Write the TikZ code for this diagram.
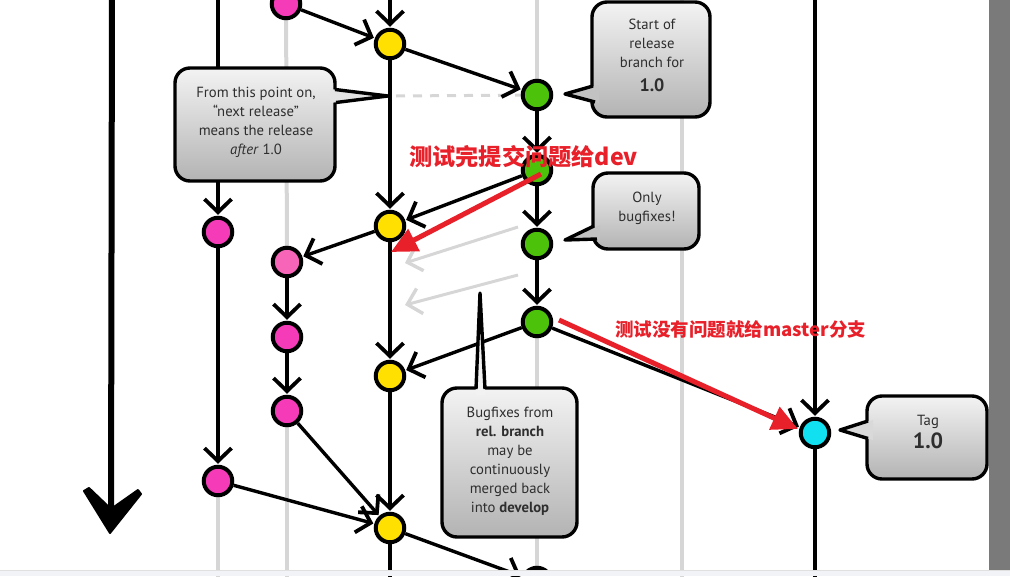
\documentclass[tikz,border=0pt]{standalone}
\usepackage{fontspec}
\setmainfont{PT Sans}
\newfontfamily\cjk{Noto Sans CJK SC}
\usetikzlibrary{arrows.meta}
\definecolor{pinkc}{HTML}{F53BB8}
\definecolor{pinkl}{HTML}{F765B8}
\definecolor{yel}{HTML}{FFE000}
\definecolor{grn}{HTML}{4DC20A}
\definecolor{cyn}{HTML}{10E0F0}
\definecolor{redc}{HTML}{E8202A}
\definecolor{lgrey}{HTML}{D6D6D6}
\definecolor{txt}{HTML}{2E2E2E}
\definecolor{btop}{HTML}{F3F3F3}
\definecolor{bbot}{HTML}{B3B3B3}
\definecolor{barg}{HTML}{7A7A7A}
\definecolor{strip}{HTML}{F2F3F6}
\pgfdeclarelayer{bg}
\pgfsetlayers{bg,main}
\tikzset{
  commit/.style={circle, draw=black, line width=4pt, minimum size=28.5pt, inner sep=0pt},
  edgeflow/.style={line width=3.4pt, -{Straight Barb[length=13pt,width=27pt,line width=3.8pt]}, shorten >=1pt},
  edgeplain/.style={line width=3.4pt},
  ghost/.style={draw=lgrey, line width=4pt},
  ghostflow/.style={draw=lgrey, line width=3pt, -{Straight Barb[length=13pt,width=26pt,line width=3.4pt]}},
  bubble/.style={draw=black, line width=3.4pt, rounded corners=15pt, top color=btop, bottom color=bbot, inner sep=0pt},
  btext/.style={text=txt, align=center, inner sep=0pt, font=\fontsize{14.7}{19}\selectfont},
  ptr/.style={draw=black, line width=3.4pt, line join=round},
  redarrow/.style={draw=redc, line width=5pt, -{Triangle[length=26pt,width=24pt]}},
  redtxt/.style={text=redc, font=\cjk\bfseries\fontsize{23.2}{25}\selectfont, inner sep=0pt},
  redtxtb/.style={text=redc, font=\cjk\bfseries\fontsize{18.5}{21}\selectfont, inner sep=0pt},
}
\begin{document}
\begin{tikzpicture}[x=1pt,y=-1pt]
\useasboundingbox (0,0) rectangle (1010,576);
\begin{scope}
\clip (0,0) rectangle (989,570);
% commits
\node[commit, fill=pinkc] (p0) at (286,4) {};
\node[commit, fill=yel] (d1) at (390,44) {};
\node[commit, fill=grn] (r1) at (537,95) {};
\node[commit, fill=grn] (r2) at (537,170) {};
\node[commit, fill=grn] (r3) at (537,244) {};
\node[commit, fill=grn] (r4) at (537,322) {};
\node[commit, fill=grn] (r5) at (537,582) {};
\node[commit, fill=cyn] (m1) at (815,433) {};
\node[commit, fill=pinkc] (fa1) at (218,232) {};
\node[commit, fill=pinkc] (fa2) at (218,481) {};
\node[commit, fill=pinkl] (fb1) at (287,262) {};
\node[commit, fill=pinkc] (fb2) at (287,337) {};
\node[commit, fill=pinkc] (fb3) at (287,411) {};
\node[commit, fill=yel] (d2) at (390,226) {};
\node[commit, fill=yel] (d3) at (390,376) {};
\node[commit, fill=yel] (d4) at (390,528) {};
% free ends
\coordinate (faT) at (218,-10);
\coordinate (faB) at (218,600);
\coordinate (fbT) at (286,-10);
\coordinate (fbB) at (287,600);
\coordinate (dT) at (390,-10);
\coordinate (dB) at (390,600);
\coordinate (rT) at (537,-10);
\coordinate (sT) at (682,-10);
\coordinate (sB) at (682,600);
\coordinate (mT) at (815,-10);
\coordinate (mB) at (815,600);
\coordinate (tT) at (112,-10);
\coordinate (tB) at (111,515);
\coordinate (dl) at (396,96);
\coordinate (ga1s) at (518,227);
\coordinate (ga1e) at (405,263);
\coordinate (ga2s) at (518,275);
\coordinate (ga2e) at (405,305);
\begin{pgfonlayer}{bg}
  \draw[ghost] (fbT) -- (fb1);
  \draw[ghost] (fb3) -- (fbB);
  \draw[ghost] (rT) -- (r1);
  \draw[ghost] (r4) -- (r5);
  \draw[ghost] (sT) -- (sB);
  \draw[ghost] (fa2) -- (faB);
  \draw[draw=lgrey, line width=3pt, dash pattern=on 9pt off 8pt] (dl) -- (r1);
  \draw[ghostflow] (ga1s) -- (ga1e);
  \draw[ghostflow] (ga2s) -- (ga2e);
  % time axis
  \draw[line width=6pt] (tT) -- (tB);
  \filldraw[line width=2pt, line join=round] (84,491) -- (110,533) -- (141,494) -- (138,490) -- (111,509) -- (89,488) -- cycle;
  % main lines
  \draw[edgeflow] (faT) -- (fa1);
  \draw[edgeflow] (fa1) -- (fa2);
  \draw[edgeflow] (dT) -- (d1);
  \draw[edgeflow] (d1) -- (d2);
  \draw[edgeflow] (d2) -- (d3);
  \draw[edgeflow] (d3) -- (d4);
  \draw[edgeplain] (d4) -- (dB);
  \draw[edgeflow] (mT) -- (m1);
  \draw[edgeplain] (m1) -- (mB);
  \draw[edgeflow] (p0) -- (d1);
  \draw[edgeflow] (d1) -- (r1);
  \draw[edgeflow] (r1) -- (r2);
  \draw[edgeflow] (r2) -- (r3);
  \draw[edgeflow] (r3) -- (r4);
  \draw[edgeflow] (r2) -- (d2);
  \draw[edgeflow] (d2) -- (fb1);
  \draw[edgeflow] (fb1) -- (fb2);
  \draw[edgeflow] (fb2) -- (fb3);
  \draw[edgeflow] (r4) -- (d3);
  \draw[edgeflow] (r4) -- (m1);
  \draw[edgeflow] (fb3) -- (d4);
  \draw[edgeflow] (fa2) -- (d4);
  \draw[edgeflow] (d4) -- (r5);
\end{pgfonlayer}
% bubbles
\node[bubble, minimum width=160pt, minimum height=113pt] (b1) at (255,124.5) {};
\fill[fill=black!11] (330,89) -- (388,96) -- (330,103) -- cycle;
\draw[ptr] (335,89.5) -- (388,96) -- (336,102.5);
\node[btext] (b1t) at (256,122.5) {From this point on,\\“next release”\\means the release\\\textit{after} 1.0};
\node[bubble, minimum width=118pt, minimum height=115pt] (b2) at (651,59.5) {};
\fill[fill=black!24] (599,85) -- (565,94) -- (599,103) -- cycle;
\draw[ptr] (593,86) -- (565,94) -- (595,102);
\node[btext] (b2t) at (652,55) {Start of\\release\\branch for\\[5pt]{\fontsize{18}{18}\selectfont\bfseries 1.0}};
\node[bubble, minimum width=106pt, minimum height=76pt] (b3) at (646,211) {};
\fill[fill=black!24] (600,225) -- (565,240) -- (600,240) -- cycle;
\draw[ptr] (594,226) -- (565,240) -- (597,239);
\node[btext] (b3t) at (647,208) {Only\\bugfixes!};
\node[bubble, minimum width=135pt, minimum height=149pt] (b4) at (509.5,462.5) {};
\fill[fill=black!5] (475.5,395) -- (480,293) -- (485.5,395) -- cycle;
\draw[ptr] (476,389) -- (480,293) -- (485,389);
\node[btext] (b4t) at (510,461) {Bugfixes from\\\textbf{rel. branch}\\may be\\continuously\\merged back\\into \textbf{develop}};
\node[bubble, minimum width=120pt, minimum height=83pt] (b5) at (927,437.5) {};
\fill[fill=black!15] (873,420) -- (840,430) -- (873,440) -- cycle;
\draw[ptr] (868,421) -- (840,430) -- (868,438.5);
\node[btext] (b5t) at (928,432) {Tag\\[4pt]{\fontsize{22}{22}\selectfont\bfseries 1.0}};
% red annotations
\coordinate (ra1s) at (541,174);
\coordinate (ra1e) at (391,252);
\coordinate (ra2s) at (559,320);
\coordinate (ra2e) at (798,429);
\draw[redarrow] (ra1s) -- (ra1e);
\draw[redarrow] (ra2s) -- (ra2e);
\node[redtxt, anchor=west] (lab1) at (409,157) {测试完提交问题给dev};
\node[redtxtb, anchor=west] (lab2) at (615,329) {测试没有问题就给master分支};
\end{scope}
\fill[barg] (989,0) rectangle (1010,570);
\fill[strip] (0,570) rectangle (1010,576);
\draw[draw=black!12, line width=0.8pt] (0,570) -- (1010,570);
\end{tikzpicture}
\end{document}
